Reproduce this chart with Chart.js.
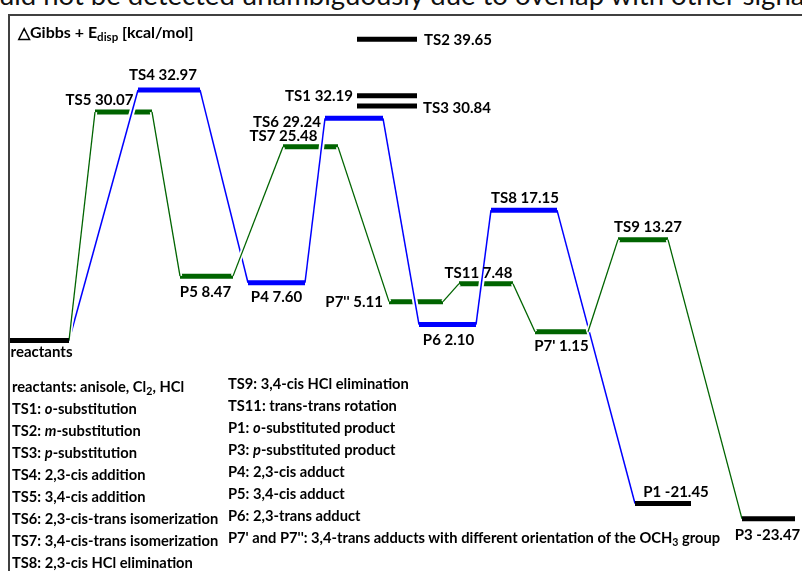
<!DOCTYPE html>
<html>
<head>
<meta charset="utf-8">
<script src="https://cdn.jsdelivr.net/npm/chart.js@4.4.0/dist/chart.umd.min.js"></script>
<style>
  html, body { margin: 0; padding: 0; background: #fff; }
  #wrap { position: relative; width: 802px; height: 571px; overflow: hidden;
          font-family: Lato, "Open Sans", sans-serif; color: #000; }
  #caption { position: absolute; left: -1px; top: -16.6px; font-size: 27.5px; line-height: 24px;
             white-space: nowrap; color: #111; }
  #frame { position: absolute; left: 8px; top: 14px; width: 820px; height: 600px;
           border-left: 2px solid #404040; border-top: 2px solid #404040; }
  canvas { position: absolute; left: 0; top: 0; }
  .ttl { position: absolute; left: 18px; top: 21.8px; font-size: 16px; font-weight: 700;
         line-height: 20px; white-space: nowrap; }
  .notes { position: absolute; font-size: 14.7px; font-weight: 700; line-height: 22px; white-space: nowrap; }
  .notes div { height: 22px; }
  sub { font-size: 0.72em; vertical-align: -0.3em; line-height: 0; }
</style>
</head>
<body>
<div id="wrap">
  <div id="caption">uld not be detected unambiguously due to overlap with other signals</div>
  <div id="frame"></div>
  <canvas id="diagram" width="802" height="571"></canvas>
  <div class="ttl">△Gibbs + E<sub>disp</sub> [kcal/mol]</div>
  <div class="notes" style="left:12px; top:374.8px;">
    <div>reactants: anisole, Cl<sub>2</sub>, HCl</div>
    <div>TS1: <i>o</i>-substitution</div>
    <div>TS2: <i>m</i>-substitution</div>
    <div>TS3: <i>p</i>-substitution</div>
    <div>TS4: 2,3-cis addition</div>
    <div>TS5: 3,4-cis addition</div>
    <div>TS6: 2,3-cis-trans isomerization</div>
    <div>TS7: 3,4-cis-trans isomerization</div>
    <div>TS8: 2,3-cis HCl elimination</div>
  </div>
  <div class="notes" style="left:228px; top:371.6px;">
    <div>TS9: 3,4-cis HCl elimination</div>
    <div>TS11: trans-trans rotation</div>
    <div>P1: <i>o</i>-substituted product</div>
    <div>P3: <i>p</i>-substituted product</div>
    <div>P4: 2,3-cis adduct</div>
    <div>P5: 3,4-cis adduct</div>
    <div>P6: 2,3-trans adduct</div>
    <div>P7' and P7'': 3,4-trans adducts with different orientation of the OCH<sub>3</sub> group</div>
  </div>
</div>
<script>
// Stationary points of the anisole + Cl2 reaction network (ΔG + E_disp, kcal/mol)
const levels     = ['reactants', 'TS5', 'TS4', 'P5', 'P4', 'TS7', 'TS6', 'TS1', 'TS2', 'TS3',
                    "P7''", 'P6', 'TS11', 'TS8', "P7'", 'TS9', 'P1', 'P3'];
const energies   = [0, 30.07, 32.97, 8.47, 7.60, 25.48, 29.24, 32.19, 39.65, 30.84,
                    5.11, 2.10, 7.48, 17.15, 1.15, 13.27, -21.45, -23.47];
// extent of each level along the reaction coordinate
const stageStart = [1.0, 9.5, 13.8, 18.0, 24.8, 28.3, 32.5, 35.7, 35.7, 35.7,
                    38.9, 41.9, 45.9, 49.1, 53.5, 61.8, 63.5, 74.2];
const stageEnd   = [6.9, 15.2, 20.0, 23.3, 30.5, 33.8, 38.3, 41.7, 41.7, 41.7,
                    44.3, 47.6, 51.3, 55.7, 58.8, 66.8, 69.1, 79.5];
// reaction pathways (2,3-addition route and 3,4-addition route)
const bluePath  = ['reactants', 'TS4', 'P4', 'TS6', 'P6', 'TS8', 'P1'];
const greenPath = ['reactants', 'TS5', 'P5', 'TS7', "P7''", 'TS11', "P7'", 'TS9', 'P3'];

const BLUE = '#0000ff', GREEN = '#006400', BLACK = '#000000';
const BAR_W = 5;

// label placement around each level bar
const labelPlace = {
  'reactants': { side: 'below', dx: 2,   dy: 16 },
  'TS5':  { side: 'above', dx: -24, dy: -7 },
  'TS4':  { side: 'above', dx: -6,  dy: -9.5 },
  'P5':   { side: 'below', dx: -1,  dy: 21 },
  'P4':   { side: 'below', dx: 0,   dy: 19 },
  'TS7':  { side: 'above', dx: -27, dy: -5.5 },
  'TS6':  { side: 'left',  dx: 4,   dy: 8.5 },
  'TS1':  { side: 'left',  dx: 4,   dy: 5 },
  'TS2':  { side: 'right', dx: 7,   dy: 5.5 },
  'TS3':  { side: 'right', dx: 6,   dy: 7 },
  "P7''": { side: 'left',  dx: 6,   dy: 5 },
  'P6':   { side: 'below', dx: 1,   dy: 20 },
  'TS11': { side: 'above', dx: -7.5, dy: -6 },
  'TS8':  { side: 'above', dx: 1,   dy: -7.5 },
  "P7'":  { side: 'below', dx: 0,   dy: 19 },
  'TS9':  { side: 'above', dx: 5,   dy: -7.5 },
  'P1':   { side: 'above', dx: 13,  dy: -7 },
  'P3':   { side: 'below', dx: -1,  dy: 21 }
};

const idx = name => levels.indexOf(name);
function levelColor(name) {
  if (name !== 'reactants' && bluePath.includes(name) && name !== 'P1') return BLUE;
  if (name !== 'reactants' && greenPath.includes(name) && name !== 'P3') return GREEN;
  return BLACK;
}

const datasets = [];
// level bars
levels.forEach((name, i) => {
  const col = levelColor(name);
  datasets.push({
    data: [{ x: stageStart[i], y: energies[i] }, { x: stageEnd[i], y: energies[i] }],
    borderColor: col, borderWidth: BAR_W, borderCapStyle: 'butt',
    order: col === BLACK ? 0 : (col === BLUE ? 1 : 6)
  });
});
// connectors between consecutive levels, each with a white casing underneath
function connectors(path, color, width, lineOrder, haloOrder, haloWidth) {
  for (let k = 0; k < path.length - 1; k++) {
    const a = idx(path[k]), b = idx(path[k + 1]);
    const pts = [{ x: stageEnd[a], y: energies[a] }, { x: stageStart[b], y: energies[b] }];
    datasets.push({ data: pts, borderColor: color, borderWidth: width, order: lineOrder, borderCapStyle: 'butt' });
    datasets.push({ data: pts, borderColor: '#ffffff', borderWidth: haloWidth, order: haloOrder, borderCapStyle: 'butt' });
  }
}
connectors(greenPath, GREEN, 1.3, 2, 3, 4.5);
connectors(bluePath, BLUE, 1.5, 4, 5, 5.5);

const levelLabels = {
  id: 'levelLabels',
  afterDatasetsDraw(chart) {
    const { ctx, scales: { x, y } } = chart;
    ctx.save();
    ctx.font = 'bold 15px Lato, "Open Sans", sans-serif';
    ctx.fillStyle = '#000';
    ctx.textBaseline = 'alphabetic';
    levels.forEach((name, i) => {
      const p = labelPlace[name];
      const text = name === 'reactants' ? 'reactants' : name + ' ' + energies[i].toFixed(2);
      const py = y.getPixelForValue(energies[i]);
      const x0 = x.getPixelForValue(stageStart[i]);
      const x1 = x.getPixelForValue(stageEnd[i]);
      if (p.side === 'left') {
        ctx.textAlign = 'right';
        ctx.fillText(text, x0 - p.dx, py + p.dy);
      } else if (p.side === 'right') {
        ctx.textAlign = 'left';
        ctx.fillText(text, x1 + p.dx, py + p.dy);
      } else {
        ctx.textAlign = 'center';
        ctx.fillText(text, (x0 + x1) / 2 + p.dx, py + p.dy);
      }
    });
    ctx.restore();
  }
};

new Chart(document.getElementById('diagram'), {
  type: 'line',
  data: { datasets },
  options: {
    responsive: false,
    animation: false,
    devicePixelRatio: 1,
    events: [],
    layout: { padding: 0 },
    elements: { point: { radius: 0 }, line: { tension: 0, fill: false } },
    plugins: { legend: { display: false }, tooltip: { enabled: false } },
    scales: {
      x: { type: 'linear', min: 0, max: 80.2, display: false },
      y: { type: 'linear', min: -30.329, max: 44.803, display: false }
    }
  },
  plugins: [levelLabels]
});
</script>
</body>
</html>
